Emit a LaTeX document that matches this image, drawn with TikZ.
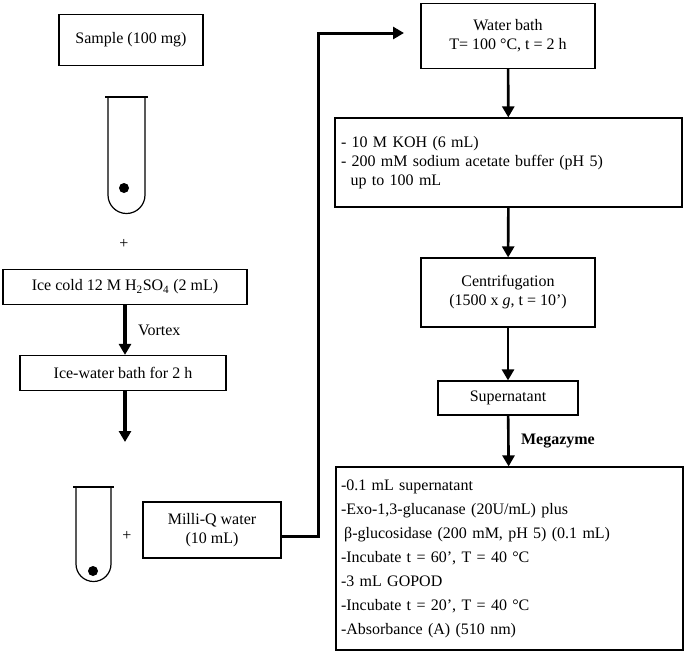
\documentclass[tikz,border=0pt]{standalone}
\usepackage{fontspec}
\setmainfont{Liberation Serif}
\usetikzlibrary{arrows.meta}
\begin{document}
\begin{tikzpicture}[x=1pt,y=-1pt,
 box/.style={draw,line width=1.2pt,inner sep=0pt,align=center,font=\fontsize{16}{19}\selectfont},
 arr/.style={line width=3.5pt,-{Triangle[length=11pt,width=12pt]}},
 lbl/.style={font=\fontsize{16}{19}\selectfont}]
\useasboundingbox (0,0) rectangle (685,654);
\node[box,minimum width=144pt,minimum height=51pt] (sample) at (131,40) {Sample (100 mg)};
% tube 1
\draw[line width=1.2pt] (108,97) -- (108,195) arc[start angle=180,end angle=0,radius=18.5] -- (145,97);
\draw[line width=2.2pt] (105,97) -- (148,97);
\fill (124,188) circle (5);
\node[lbl] (p1) at (124,244) {+};
\node[box,minimum width=244pt,minimum height=35pt] (ice) at (125,287) {Ice cold 12 M H\textsubscript{2}SO\textsubscript{4} (2 mL)};
\node[box,minimum width=206pt,minimum height=35pt] (bath) at (123,373) {Ice-water bath for 2 h};
\coordinate (t2) at (125,442);
\draw[arr] (ice.south -| 125,0) -- (bath.north -| 125,0) node[midway,right=8pt,lbl] {Vortex};
\draw[arr] (bath.south -| 125,0) -- (t2);
% tube 2
\draw[line width=1.2pt] (76,487) -- (76,564) arc[start angle=180,end angle=0,radius=17.5] -- (111,487);
\draw[line width=2.2pt] (73,487) -- (114,487);
\fill (93,571) circle (5);
\node[lbl] (p2) at (127,536) {+};
\node[box,minimum width=138pt,minimum height=56pt] (milli) at (212,530) {Milli-Q water\\(10 mL)};
\node[box,minimum width=174pt,minimum height=65pt] (water) at (508,36) {Water bath\\T= 100 °C, t = 2 h};
\coordinate (wtip) at (404,33);
\draw[line width=3pt,-{Triangle[length=11pt,width=12pt]}] (milli.east |- 0,536) -| (318,33) -- (wtip);
\node[box,minimum width=347pt,minimum height=89pt,align=left,text width=335pt] (koh) at (508.5,162.5) {- 10 M KOH (6 mL)\\- 200 mM sodium acetate buffer (pH 5)\\\hspace*{0.6em}up to 100 mL};
\node[box,minimum width=174pt,minimum height=69pt] (cent) at (508,292.5) {Centrifugation\\(1500 x \textit{g}, t = 10')};
\node[box,minimum width=140pt,minimum height=34pt] (sup) at (508,398) {Supernatant};
\node[box,minimum width=347pt,minimum height=183pt,align=left,text width=337pt,font=\fontsize{16}{24}\selectfont] (fin) at (509.5,558.5) {-0.1 mL supernatant\\-Exo-1,3-glucanase (20U/mL) plus\\\hspace*{0.2em}β-glucosidase (200 mM, pH 5) (0.1 mL)\\-Incubate t = 60', T = 40 °C\\-3 mL GOPOD\\-Incubate t = 20', T = 40 °C\\-Absorbance (A) (510 nm)};
\tikzset{arr2/.style={line width=2.6pt,-{Triangle[length=11pt,width=12pt]}}}
\draw[arr2] (water) -- (koh);
\draw[arr2] (koh) -- (cent);
\draw[arr2] (cent) -- (sup);
\draw[arr2] (sup) -- (fin) node[midway,right=8pt,font=\fontsize{16}{19}\selectfont\bfseries] {Megazyme};
\end{tikzpicture}
\end{document}
